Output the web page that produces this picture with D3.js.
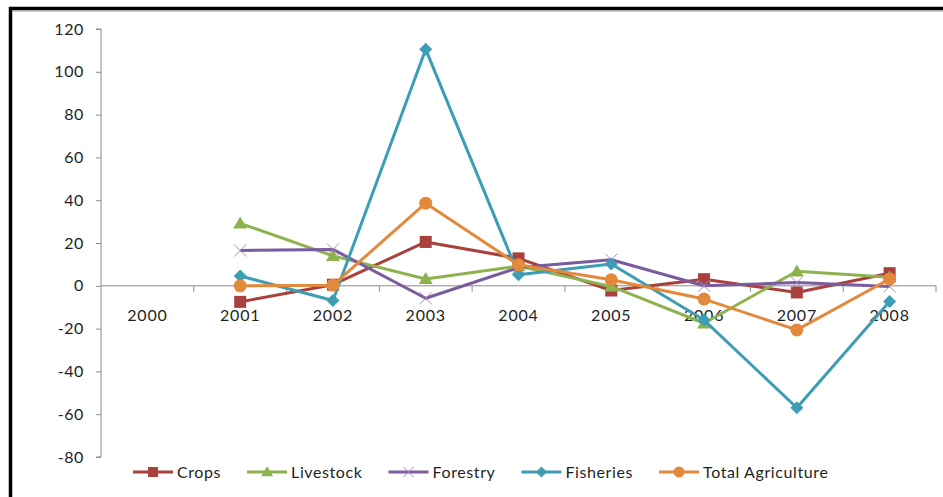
<!DOCTYPE html>
<html>
<head>
<meta charset="utf-8">
<script src="https://cdn.jsdelivr.net/npm/d3@7"></script>
<style>
  html, body { margin: 0; padding: 0; background: #fff; }
  svg { display: block; }
  text { font-family: Lato, "Open Sans", sans-serif; fill: #1f1f1f; }
</style>
</head>
<body>
<svg id="chart" width="943" height="497"></svg>
<script>
// Annual growth rates (%) by agricultural sub-sector
const years = ["2000", "2001", "2002", "2003", "2004", "2005", "2006", "2007", "2008"];
const crops       = [null, -7.5, 0.5, 20.5, 12.8, -2.2, 3.1, -3.1, 5.9];
const livestock   = [null, 29.2, 14.0, 3.2, 9.2, -0.3, -17.5, 6.8, 4.0];
const forestry    = [null, 16.5, 17.0, -5.8, 8.5, 12.2, 0.0, 1.5, -0.3];
const fisheries   = [null, 4.6, -6.9, 110.5, 5.2, 10.2, -16.0, -57.0, -7.3];
const totalAgri   = [null, 0.0, 0.3, 38.6, 9.8, 2.8, -6.2, -20.6, 3.2];
const yTicks = [-80, -60, -40, -20, 0, 20, 40, 60, 80, 100, 120];

const seriesNames  = ["Crops", "Livestock", "Forestry", "Fisheries", "Total Agriculture"];
const seriesValues = [crops, livestock, forestry, fisheries, totalAgri];
const seriesColors = ["#A8403E", "#8DB34E", "#7A5B9E", "#3D9DB4", "#E2893B"];
const seriesMarkers = ["square", "triangle", "cross", "diamond", "circle"];

const svg = d3.select("#chart");

// outer frame
svg.append("rect")
  .attr("x", 10.5).attr("y", 8.5)
  .attr("width", 1000).attr("height", 600)
  .attr("fill", "none").attr("stroke", "#000").attr("stroke-width", 3.5);
svg.append("line")
  .attr("x1", 12).attr("x2", 943).attr("y1", 11).attr("y2", 11)
  .attr("stroke", "#9a9a9a").attr("stroke-width", 1);

const plot = { left: 101, right: 936, top: 29, bottom: 457 };

const x = d3.scaleBand().domain(years).range([plot.left, plot.right]);
const y = d3.scaleLinear().domain([-80, 120]).range([plot.bottom, plot.top]);
const cx = d => x(d) + x.bandwidth() / 2;

// y axis (plain hyphen for negatives)
const yAxis = svg.append("g")
  .attr("transform", `translate(${plot.left},0)`)
  .call(d3.axisLeft(y).tickValues(yTicks).tickSize(5).tickPadding(12).tickFormat(d => String(d)));
yAxis.select(".domain").attr("stroke", "#8c8c8c").attr("d", `M-5,${y(120)}H0V${y(-80)}H-5`);
yAxis.selectAll(".tick line").attr("stroke", "#8c8c8c");
yAxis.selectAll(".tick text").attr("font-size", 16).attr("fill", "#1f1f1f")
  .attr("letter-spacing", 0.6)
  .style("font-family", "Lato, sans-serif");

// x axis at zero line, tick marks at category boundaries
const xg = svg.append("g").attr("transform", `translate(0,${y(0)})`);
xg.append("line")
  .attr("x1", plot.left).attr("x2", plot.right)
  .attr("stroke", "#8c8c8c").attr("stroke-width", 1);
const bounds = years.map(d => x(d)).concat([plot.right]);
xg.selectAll(".bt").data(bounds.slice(1)).join("line")
  .attr("x1", d => d).attr("x2", d => d).attr("y1", 0).attr("y2", 6)
  .attr("stroke", "#8c8c8c");
xg.selectAll(".xl").data(years).join("text")
  .attr("x", d => cx(d)).attr("y", 35)
  .attr("text-anchor", "middle").attr("font-size", 16)
  .attr("letter-spacing", 0.8)
  .text(d => d);

// marker drawing
function drawMarker(g, type, color, s) {
  if (type === "square") {
    g.append("rect").attr("x", -s / 2).attr("y", -s / 2).attr("width", s).attr("height", s).attr("fill", color);
  } else if (type === "circle") {
    g.append("circle").attr("r", s / 2 + 0.5).attr("fill", color);
  } else if (type === "triangle") {
    const h = s * 0.95;
    g.append("path").attr("d", `M0,${-h * 0.6}L${s / 2 + 1},${h * 0.45}L${-s / 2 - 1},${h * 0.45}Z`).attr("fill", color);
  } else if (type === "diamond") {
    const r = s / 2 + 0.5;
    g.append("path").attr("d", `M0,${-r}L${r},0L0,${r}L${-r},0Z`).attr("fill", color);
  } else if (type === "cross") {
    const r = s / 2;
    g.append("path").attr("d", `M${-r},${-r}L${r},${r}M${-r},${r}L${r},${-r}`)
      .attr("stroke", "#a08cc6").attr("stroke-width", 1).attr("fill", "none");
  }
}

const line = d3.line()
  .defined(d => d.v !== null)
  .x(d => cx(d.year))
  .y(d => y(d.v));

seriesNames.forEach((name, i) => {
  const pts = years.map((yr, j) => ({ year: yr, v: seriesValues[i][j] }));
  const g = svg.append("g");
  g.append("path").datum(pts)
    .attr("d", line)
    .attr("fill", "none")
    .attr("stroke", seriesColors[i])
    .attr("stroke-width", 3)
    .attr("stroke-linejoin", "round");
  pts.filter(p => p.v !== null).forEach(p => {
    const m = g.append("g").attr("transform", `translate(${cx(p.year)},${y(p.v)})`);
    drawMarker(m, seriesMarkers[i], seriesColors[i], 12);
  });
});

// legend
const legend = svg.append("g").attr("transform", "translate(133,472)");
let lx = 0;
seriesNames.forEach((name, i) => {
  const item = legend.append("g").attr("transform", `translate(${lx},0)`);
  item.append("line").attr("x1", 0).attr("x2", 40).attr("y1", 0).attr("y2", 0)
    .attr("stroke", seriesColors[i]).attr("stroke-width", 3);
  const m = item.append("g").attr("transform", "translate(20,0)");
  drawMarker(m, seriesMarkers[i], seriesColors[i], 10);
  const t = item.append("text").attr("x", 44).attr("y", 6)
    .attr("font-size", 16).attr("letter-spacing", 0.6).text(name);
  lx += 44 + t.node().getComputedTextLength() + 26;
});
</script>
</body>
</html>
